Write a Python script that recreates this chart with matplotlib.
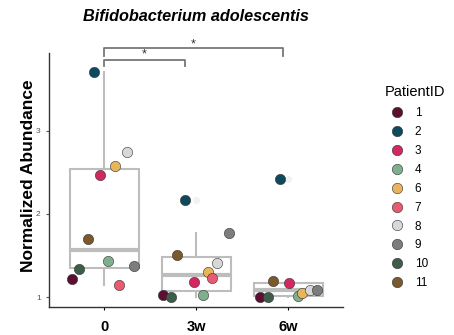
import numpy as np
import matplotlib
matplotlib.use("Agg")
import matplotlib.pyplot as plt
from matplotlib.lines import Line2D

plt.rcParams['font.family'] = ['Liberation Sans', 'DejaVu Sans']

# data
groups = ['0', '3w', '6w']
patients = ['1', '2', '3', '4', '6', '7', '8', '9', '10', '11']
colors = ['#5c0f30', '#0e4a5e', '#d3285f', '#7fb08c', '#e8b55c',
          '#e65a72', '#d8d8d8', '#7d7d7d', '#3e5d48', '#7a5a2c']

# abundance per patient (None = missing)
vals_0 = [1.22, 3.70, 2.47, 1.43, 2.57, 1.14, 2.74, 1.37, 1.34, 1.70]
vals_3w = [1.03, 2.165, 1.18, 1.03, 1.30, 1.23, 1.41, 1.775, 1.00, 1.51]
vals_6w = [1.00, 2.42, 1.17, 1.01, 1.045, None, 1.09, 1.085, 1.00, 1.195]

# horizontal jitter
jit_0 = [-0.35, -0.11, -0.05, 0.04, 0.12, 0.16, 0.25, 0.32, -0.27, -0.18]
jit_3w = [-0.36, -0.12, -0.02, 0.07, 0.13, 0.17, 0.23, 0.36, -0.27, -0.21]
jit_6w = [-0.30, -0.09, 0.01, 0.11, 0.15, 0.0, 0.24, 0.32, -0.22, -0.16]

all_vals = [vals_0, vals_3w, vals_6w]
all_jit = [jit_0, jit_3w, jit_6w]

fig = plt.figure(figsize=(4.54, 3.35), dpi=100)
ax = fig.add_axes([0.108, 0.0836, 0.648, 0.782])

box_data = [[v for v in vs if v is not None] for vs in all_vals]
ax.boxplot(box_data, positions=[0, 1, 2], widths=0.75, showcaps=False,
           patch_artist=True,
           boxprops=dict(facecolor='white', edgecolor='#bdbdbd', linewidth=1.5),
           whiskerprops=dict(color='#bdbdbd', linewidth=1.5),
           medianprops=dict(color='#bdbdbd', linewidth=3),
           flierprops=dict(marker='o', markersize=5, markerfacecolor='#f2f2f2',
                           markeredgecolor='none'),
           zorder=1)

for gi, (vs, js) in enumerate(zip(all_vals, all_jit)):
    for pi, (v, j) in enumerate(zip(vs, js)):
        if v is None:
            continue
        ax.scatter(gi + j, v, s=55, color=colors[pi], edgecolor='#333333',
                   linewidth=0.4, zorder=3)

ax.set_xlim(-0.6, 2.6)
ax.set_ylim(0.88, 4.03)
ax.set_xticks([0, 1, 2])
ax.set_xticklabels(groups, fontsize=10.5, fontweight='bold')
ax.set_yticks([1, 2, 3])
ax.tick_params(axis='y', labelsize=6, colors='#555555', length=2.5, width=0.8)
ax.tick_params(axis='x', length=2.5, width=0.8, pad=7)
ax.spines['top'].set_visible(False)
ax.spines['right'].set_visible(False)
ax.spines['left'].set_bounds(0.88, 3.94)
for s in ['left', 'bottom']:
    ax.spines[s].set_linewidth(1.0)
    ax.spines[s].set_color('#333333')

ax.set_ylabel('Normalized Abundance', fontsize=12.5, fontweight='bold', labelpad=0)
ax.set_title('Bifidobacterium adolescentis', fontsize=11.7, fontweight='bold',
             style='italic', pad=17)

# significance brackets
bc = '#777777'
ax.plot([0, 0, 0.88, 0.88], [3.78, 3.855, 3.855, 3.78], color=bc, lw=1.3,
        clip_on=False)
ax.text(0.44, 3.84, '*', ha='center', va='bottom', fontsize=9, color='#333333')
ax.plot([0, 0, 1.94, 1.94], [3.90, 3.99, 3.99, 3.90], color=bc, lw=1.3,
        clip_on=False)
ax.text(0.97, 3.97, '*', ha='center', va='bottom', fontsize=9, color='#333333',
        clip_on=False)

handles = [Line2D([], [], marker='o', linestyle='none', markersize=7.5,
                  markerfacecolor=c, markeredgecolor='#333333',
                  markeredgewidth=0.4) for c in colors]
leg = fig.legend(handles, patients, title='PatientID', loc='upper left',
                 bbox_to_anchor=(0.838, 0.76), frameon=False, fontsize=8.5,
                 title_fontsize=10.5, labelspacing=0.58, handletextpad=0.5,
                 borderaxespad=0)
leg._legend_box.align = 'left'
leg._legend_box.sep = 6

fig.savefig('out.png', dpi=100)
